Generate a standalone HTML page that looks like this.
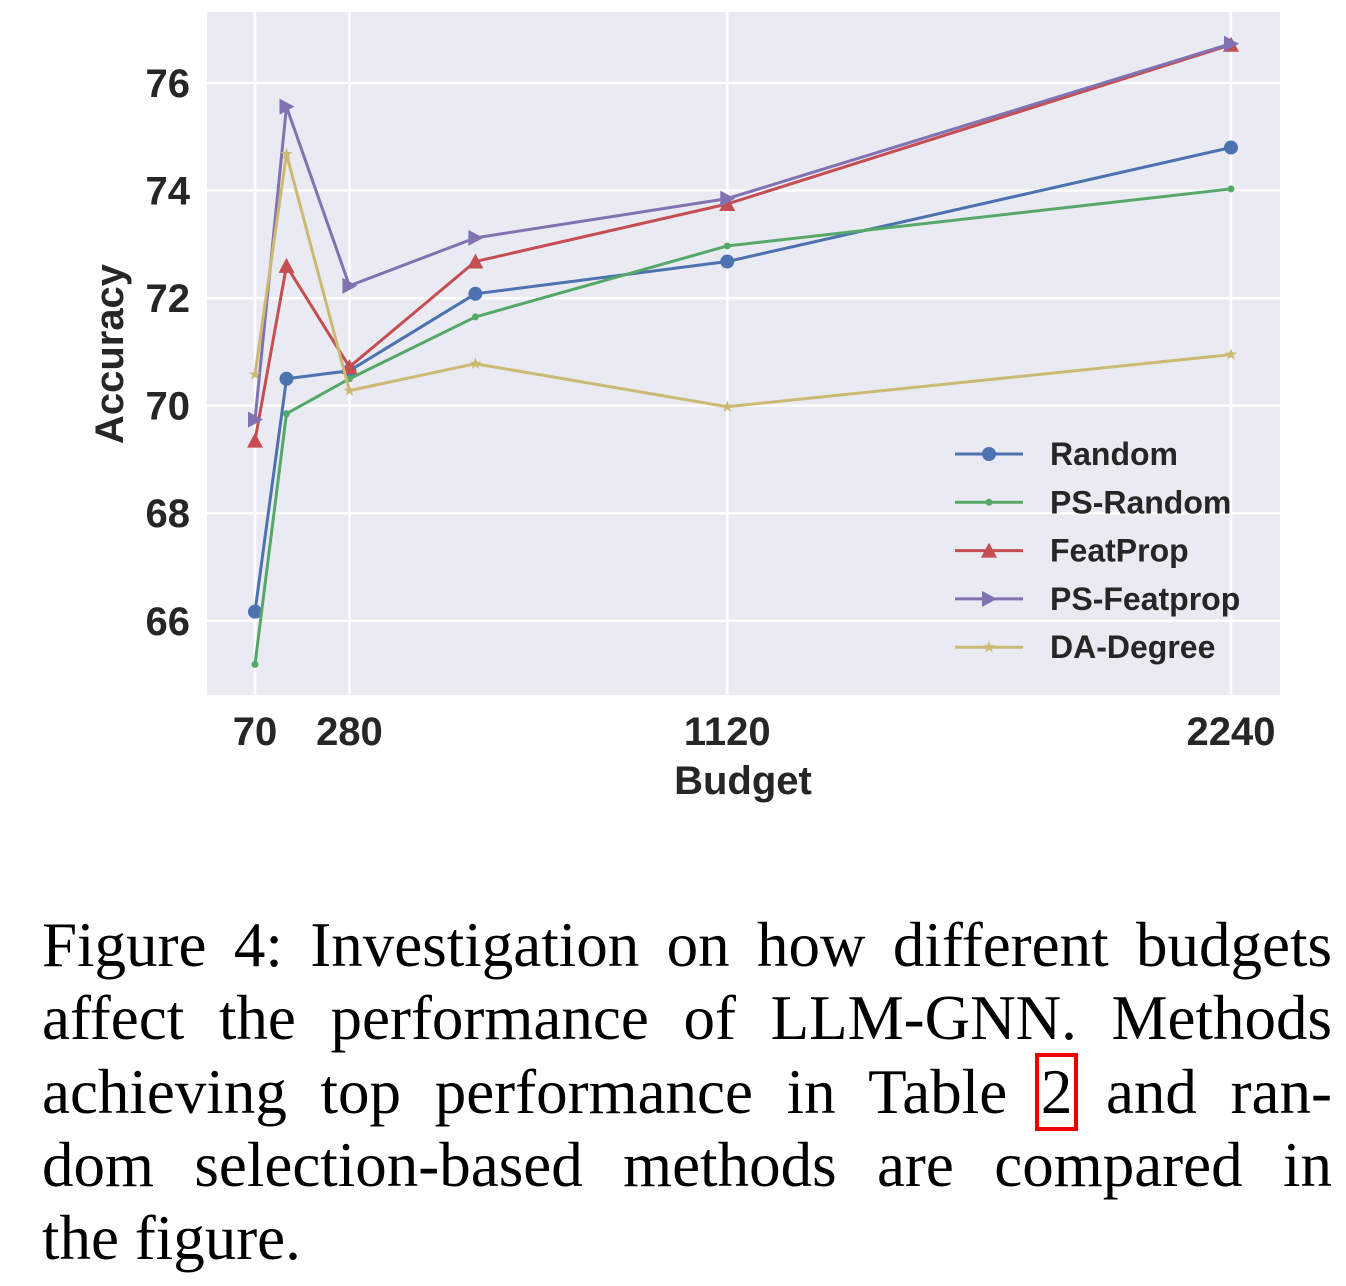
<!DOCTYPE html>
<html><head><meta charset="utf-8"><style>
body{margin:0;background:#fff;width:1346px;height:1286px;overflow:hidden;position:relative}
svg{position:absolute;left:0;top:0}
.cap{position:absolute;left:42px;width:1290px;font-family:"Liberation Serif",serif;font-size:63px;text-align:justify;text-align-last:justify;white-space:nowrap;line-height:64px;color:#000}
.cap.last{text-align-last:left}
.ref{border:4px solid #e00;padding:0 2px;margin:0 -6px}
</style></head><body>
<svg id="chart" width="1346" height="830"></svg>
<div class="cap" style="top:913px">Figure 4: Investigation on how different budgets</div>
<div class="cap" style="top:986px">affect the performance of LLM-GNN. Methods</div>
<div class="cap" style="top:1060px">achieving top performance in Table <span class="ref">2</span> and ran-</div>
<div class="cap" style="top:1133px">dom selection-based methods are compared in</div>
<div class="cap last" style="top:1206px">the figure.</div>
<script>
const budgets=[70,140,280,560,1120,2240];
const xTicks=[70,280,1120,2240];
const yTicks=[66,68,70,72,74,76];
const seriesNames=["Random","PS-Random","FeatProp","PS-Featprop","DA-Degree"];
const randomVals=[66.17,70.5,70.65,72.08,72.68,74.8];
const psRandomVals=[65.19,69.85,70.5,71.65,72.97,74.03];
const featPropVals=[69.35,72.6,70.72,72.68,73.75,76.71];
const psFeatpropVals=[69.74,75.56,72.23,73.12,73.85,76.73];
const daDegreeVals=[70.58,74.68,70.28,70.78,69.98,70.95];
const allVals=[randomVals,psRandomVals,featPropVals,psFeatpropVals,daDegreeVals];
const colors=["#4C72B0","#55A868","#C44E52","#8172B2","#CCB974"];
const markers=["circle","dot","tri","right","star"];
const L=207,R=1280,T=12,B=695;
const xMin=-36.7,xMax=2349,yMin=64.62,yMax=77.32;
const X=v=>L+(v-xMin)/(xMax-xMin)*(R-L);
const Y=v=>B-(v-yMin)/(yMax-yMin)*(B-T);
const NS="http://www.w3.org/2000/svg";
const svg=document.getElementById('chart');
function mk(t,a,p){const e=document.createElementNS(NS,t);for(const k in a)e.setAttribute(k,a[k]);(p||svg).appendChild(e);return e;}
const bg=mk('rect',{x:L,y:T,width:R-L,height:B-T,fill:'#EAEAF2'});


yTicks.forEach(t=>{
 const g=mk('line',{x1:L,x2:R,y1:Y(t),y2:Y(t),stroke:'#fff','stroke-width':2.5});
 
 
 const tx=mk('text',{x:190,y:Y(t)+14,'text-anchor':'end','font-family':'Liberation Sans, sans-serif','font-weight':'bold','font-size':40,fill:'#262626'});
 tx.textContent=t;
 
 
});
xTicks.forEach(t=>{
 const g=mk('line',{x1:X(t),x2:X(t),y1:T,y2:B,stroke:'#fff','stroke-width':2.5});
 
 
 const tx=mk('text',{x:X(t),y:745,'text-anchor':'middle','font-family':'Liberation Sans, sans-serif','font-weight':'bold','font-size':40,fill:'#262626'});
 tx.textContent=t;
 
 
});
const xt=mk('text',{x:743,y:794,'text-anchor':'middle','font-family':'Liberation Sans, sans-serif','font-weight':'bold','font-size':40,fill:'#262626'});
xt.textContent='Budget';


const yt=mk('text',{x:0,y:0,transform:'translate(123,354) rotate(-90)','text-anchor':'middle','font-family':'Liberation Sans, sans-serif','font-weight':'bold','font-size':40,fill:'#262626'});
yt.textContent='Accuracy';


function marker(type,x,y,c,p){
 if(type==='circle')return mk('circle',{cx:x,cy:y,r:7,fill:c},p);
 if(type==='dot')return mk('circle',{cx:x,cy:y,r:3.5,fill:c},p);
 if(type==='tri')return mk('polygon',{points:`${x},${y-8} ${x-8},${y+7} ${x+8},${y+7}`,fill:c},p);
 if(type==='right')return mk('polygon',{points:`${x+8},${y} ${x-7},${y-8} ${x-7},${y+8}`,fill:c},p);
 let pts=[];for(let i=0;i<10;i++){const r=i%2?2.5:6.5,a=-Math.PI/2+i*Math.PI/5;pts.push((x+r*Math.cos(a))+','+(y+r*Math.sin(a)));}
 return mk('polygon',{points:pts.join(' '),fill:c},p);
}
allVals.forEach((vals,si)=>{
 const g=mk('g',{});
 
 
 const pl=mk('polyline',{points:vals.map((v,i)=>X(budgets[i])+','+Y(v)).join(' '),fill:'none',stroke:colors[si],'stroke-width':3,'stroke-linejoin':'round'},g);
 
 
 vals.forEach((v,i)=>{const m=marker(markers[si],X(budgets[i]),Y(v),colors[si],g);
  
  });
});
const lg=mk('g',{});


seriesNames.forEach((n,i)=>{
 const y=454+i*48.3;
 const e=mk('g',{},lg);
 
 
 mk('line',{x1:955,x2:1023,y1:y,y2:y,stroke:colors[i],'stroke-width':3},e);
 marker(markers[i],989,y,colors[i],e);
 const t=mk('text',{x:1050,y:y+11,'font-family':'Liberation Sans, sans-serif','font-weight':'bold','font-size':32,fill:'#262626'},e);
 t.textContent=n;
});
</script>
</body></html>
